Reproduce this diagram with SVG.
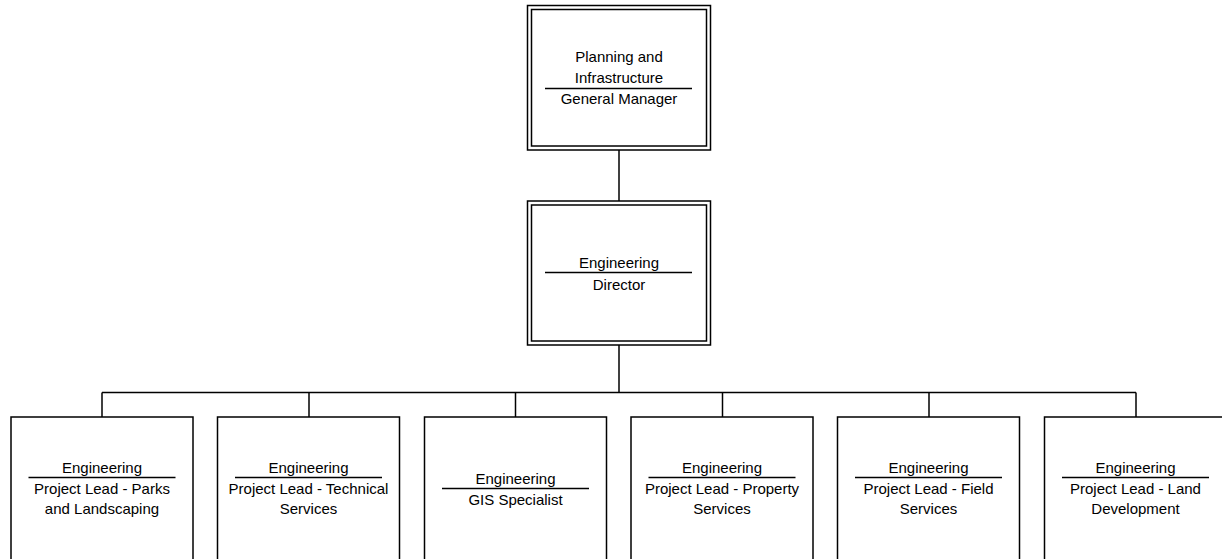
<svg xmlns="http://www.w3.org/2000/svg" width="1222" height="559" viewBox="0 0 1222 559">
  <style>
    .box { fill: #fff; stroke: #000; stroke-width: 1.5; }
    .sep { stroke: #000; stroke-width: 1.5; }
    .wire { fill: none; stroke: #000; stroke-width: 1.5; }
    text { font-family: "Liberation Sans", Arial, sans-serif; font-size: 15px; fill: #000; text-anchor: middle; }
  </style>
  <rect width="1222" height="559" fill="#fff"/>

  <!-- reporting lines -->
  <g id="connectors">
    <path class="wire" d="M619 150 V201"/>
    <path class="wire" d="M619 345 V392.5"/>
    <path class="wire" d="M102 392.5 H1136"/>
    <path class="wire" d="M102 392.5 V417"/>
    <path class="wire" d="M309 392.5 V417"/>
    <path class="wire" d="M515.5 392.5 V417"/>
    <path class="wire" d="M722.5 392.5 V417"/>
    <path class="wire" d="M929 392.5 V417"/>
    <path class="wire" d="M1136 392.5 V417"/>
  </g>

  <!-- general manager -->
  <g id="gm">
    <rect class="box" x="527.5" y="5.5" width="183" height="144.5"/>
    <rect class="box" x="531.5" y="9.5" width="175" height="136.5"/>
    <text x="619" y="62">Planning and</text>
    <text x="619" y="82.5">Infrastructure</text>
    <line class="sep" x1="545" y1="88.5" x2="692" y2="88.5"/>
    <text x="619" y="104">General Manager</text>
  </g>

  <!-- director -->
  <g id="director">
    <rect class="box" x="527.5" y="201" width="183" height="144"/>
    <rect class="box" x="531.5" y="205" width="175" height="136"/>
    <text x="619" y="267.5">Engineering</text>
    <line class="sep" x1="545" y1="272.5" x2="692" y2="272.5"/>
    <text x="619" y="289.5">Director</text>
  </g>

  <!-- project leads -->
  <g id="lead-parks">
    <rect class="box" x="11" y="417" width="182" height="144"/>
    <text x="102" y="472.5">Engineering</text>
    <line class="sep" x1="28.5" y1="477.5" x2="175.5" y2="477.5"/>
    <text x="102" y="493.5">Project Lead - Parks</text>
    <text x="102" y="513.5">and Landscaping</text>
  </g>
  <g id="lead-technical">
    <rect class="box" x="217.5" y="417" width="182" height="144"/>
    <text x="308.5" y="472.5">Engineering</text>
    <line class="sep" x1="235" y1="477.5" x2="382" y2="477.5"/>
    <text x="308.5" y="493.5">Project Lead - Technical</text>
    <text x="308.5" y="513.5">Services</text>
  </g>
  <g id="gis">
    <rect class="box" x="424.5" y="417" width="182" height="144"/>
    <text x="515.5" y="484">Engineering</text>
    <line class="sep" x1="442" y1="488.5" x2="589" y2="488.5"/>
    <text x="515.5" y="505">GIS Specialist</text>
  </g>
  <g id="lead-property">
    <rect class="box" x="631" y="417" width="182" height="144"/>
    <text x="722" y="472.5">Engineering</text>
    <line class="sep" x1="648.5" y1="477.5" x2="795.5" y2="477.5"/>
    <text x="722" y="493.5">Project Lead - Property</text>
    <text x="722" y="513.5">Services</text>
  </g>
  <g id="lead-field">
    <rect class="box" x="837.5" y="417" width="182" height="144"/>
    <text x="928.5" y="472.5">Engineering</text>
    <line class="sep" x1="855" y1="477.5" x2="1002" y2="477.5"/>
    <text x="928.5" y="493.5">Project Lead - Field</text>
    <text x="928.5" y="513.5">Services</text>
  </g>
  <g id="lead-land">
    <rect class="box" x="1044.5" y="417" width="182" height="144"/>
    <text x="1135.5" y="472.5">Engineering</text>
    <line class="sep" x1="1062" y1="477.5" x2="1209" y2="477.5"/>
    <text x="1135.5" y="493.5">Project Lead - Land</text>
    <text x="1135.5" y="513.5">Development</text>
  </g>
</svg>
